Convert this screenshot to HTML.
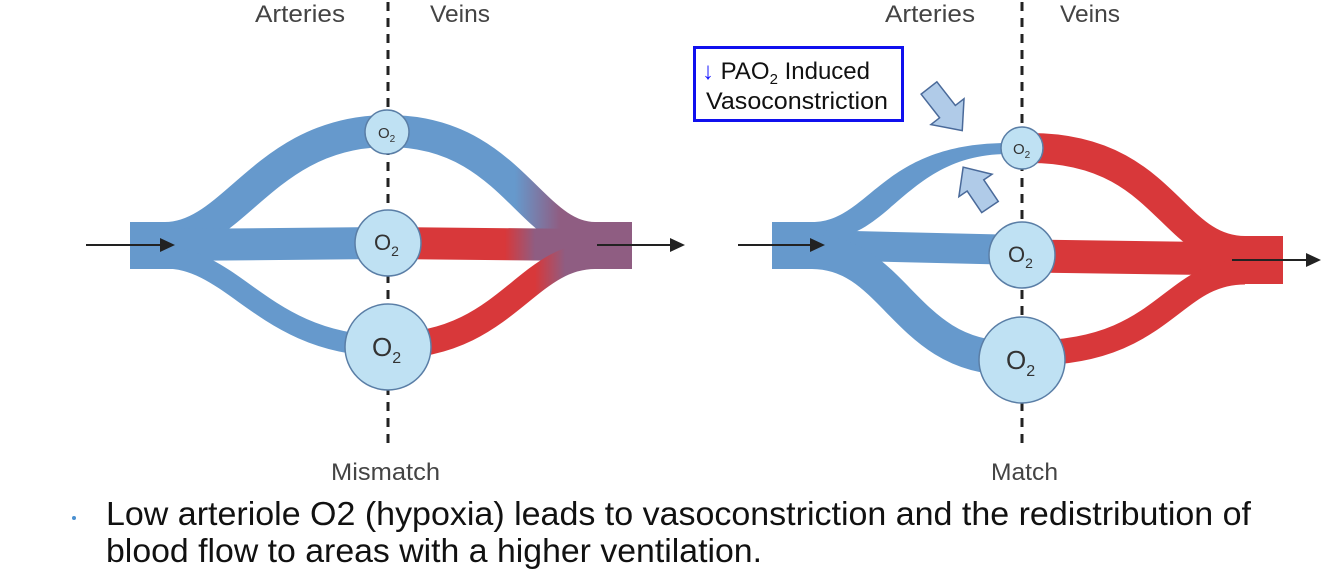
<!DOCTYPE html>
<html><head><meta charset="utf-8"><style>
body{margin:0;background:#fff;width:1334px;height:583px;overflow:hidden;font-family:"Liberation Sans",sans-serif}
</style></head><body>
<svg width="1334" height="583" viewBox="0 0 1334 583" xmlns="http://www.w3.org/2000/svg">
<defs>
<linearGradient id="gTop" gradientUnits="userSpaceOnUse" x1="515" x2="560" y1="0" y2="0">
<stop offset="0" stop-color="#6699cc"/><stop offset="1" stop-color="#8f5d82"/>
</linearGradient>
<linearGradient id="gMid" gradientUnits="userSpaceOnUse" x1="505" x2="535" y1="0" y2="0">
<stop offset="0" stop-color="#d8383a"/><stop offset="1" stop-color="#8f5d82"/>
</linearGradient>
<linearGradient id="gBot" gradientUnits="userSpaceOnUse" x1="535" x2="565" y1="0" y2="0">
<stop offset="0" stop-color="#d8383a"/><stop offset="1" stop-color="#8f5d82"/>
</linearGradient>
</defs>
<g font-family="Liberation Sans, sans-serif" fill="#444" font-size="24">
<text x="255" y="22" textLength="90" lengthAdjust="spacingAndGlyphs">Arteries</text>
<text x="430" y="22" textLength="60" lengthAdjust="spacingAndGlyphs">Veins</text>
<text x="885" y="22" textLength="90" lengthAdjust="spacingAndGlyphs">Arteries</text>
<text x="1060" y="22" textLength="60" lengthAdjust="spacingAndGlyphs">Veins</text>
<text x="331" y="480" textLength="109" lengthAdjust="spacingAndGlyphs">Mismatch</text>
<text x="991" y="480" textLength="67" lengthAdjust="spacingAndGlyphs">Match</text>
</g>
<line x1="388" y1="2" x2="388" y2="450" stroke="#222" stroke-width="3" stroke-dasharray="9,7"/>
<line x1="1022" y1="2" x2="1022" y2="450" stroke="#222" stroke-width="3" stroke-dasharray="9,7"/>
<!-- LEFT -->
<rect x="130" y="222" width="50" height="47" fill="#6699cc"/>
<rect x="575" y="222" width="57" height="47" fill="#8f5d82"/>
<g fill="none" stroke-linecap="butt">
<path d="M165,238 C235,238 265,131 388,131" stroke="#6699cc" stroke-width="32"/>
<path d="M388,131 C510,131 530,238 595,238" stroke="url(#gTop)" stroke-width="32"/>
<path d="M165,245 L388,243" stroke="#6699cc" stroke-width="32"/>
<path d="M388,243 L590,245" stroke="url(#gMid)" stroke-width="32"/>
<path d="M165,258 C235,258 265,346 388,346" stroke="#6699cc" stroke-width="21"/>
<path d="M388,346 C505,346 525,256 595,256" stroke="url(#gBot)" stroke-width="26"/>
</g>
<g fill="#bfe1f3" stroke="#5a7ea6" stroke-width="1.5">
<circle cx="387" cy="132" r="22"/><circle cx="388" cy="243" r="33"/><circle cx="388" cy="347" r="43"/>
</g>
<g fill="#333" font-family="Liberation Sans, sans-serif">
<text x="378" y="138" font-size="15">O<tspan font-size="10" dy="4">2</tspan></text>
<text x="374" y="250" font-size="22">O<tspan font-size="14" dy="6">2</tspan></text>
<text x="372" y="356" font-size="26">O<tspan font-size="16" dy="7">2</tspan></text>
</g>
<line x1="86" y1="245" x2="162" y2="245" stroke="#222" stroke-width="2"/><polygon points="175,245 160,238 160,252" fill="#222"/>
<line x1="597" y1="245" x2="672" y2="245" stroke="#222" stroke-width="2"/><polygon points="685,245 670,238 670,252" fill="#222"/>
<!-- RIGHT -->
<rect x="772" y="222" width="50" height="47" fill="#6699cc"/>
<rect x="1232" y="236" width="51" height="48" fill="#d8383a"/>
<path d="M812,222 C870,222 880,143 1008,143 L1008,154 C910,154 890,236 830,238 Z" fill="#6699cc"/>
<g fill="none">
<path d="M812,245 L1022,250" stroke="#6699cc" stroke-width="30"/>
<path d="M812,252 C895,252 905,358 1010,358" stroke="#6699cc" stroke-width="34"/>
<path d="M1030,148 C1165,148 1170,251 1245,251" stroke="#d8383a" stroke-width="30"/>
<path d="M1030,256 L1245,259" stroke="#d8383a" stroke-width="33"/>
<path d="M1030,353 C1165,353 1170,272 1245,272" stroke="#d8383a" stroke-width="25"/>
</g>
<g fill="#bfe1f3" stroke="#5a7ea6" stroke-width="1.5">
<circle cx="1022" cy="148" r="21"/><circle cx="1022" cy="255" r="33"/><circle cx="1022" cy="360" r="43"/>
</g>
<g fill="#333" font-family="Liberation Sans, sans-serif">
<text x="1013" y="154" font-size="15">O<tspan font-size="10" dy="4">2</tspan></text>
<text x="1008" y="262" font-size="22">O<tspan font-size="14" dy="6">2</tspan></text>
<text x="1006" y="369" font-size="26">O<tspan font-size="16" dy="7">2</tspan></text>
</g>
<line x1="738" y1="245" x2="812" y2="245" stroke="#222" stroke-width="2"/><polygon points="825,245 810,238 810,252" fill="#222"/>
<line x1="1232" y1="260" x2="1308" y2="260" stroke="#222" stroke-width="2"/><polygon points="1321,260 1306,253 1306,267" fill="#222"/>
<polygon points="0,-10 30,-10 30,-21 54,0 30,21 30,10 0,10" transform="translate(929,88) rotate(52)" fill="#b0cbe8" stroke="#4a6a9a" stroke-width="1.5"/>
<polygon points="0,-10 26,-10 26,-20 48,0 26,20 26,10 0,10" transform="translate(990,207) rotate(-124)" fill="#b0cbe8" stroke="#4a6a9a" stroke-width="1.5"/>
<rect x="694.5" y="47.5" width="208" height="73" fill="#fff" stroke="#1010ee" stroke-width="3"/>
<g font-family="Liberation Sans, sans-serif" font-size="24" fill="#111">
<text x="702" y="79"><tspan fill="#1a1aff">↓</tspan> PAO<tspan font-size="15" dy="5">2</tspan><tspan dy="-5"> Induced</tspan></text>
<text x="706" y="109" textLength="182" lengthAdjust="spacingAndGlyphs">Vasoconstriction</text>
</g>
<circle cx="74" cy="518" r="2" fill="#4a90d0"/>
<g font-family="Liberation Sans, sans-serif" font-size="33" fill="#111">
<text x="106" y="525" textLength="1145" lengthAdjust="spacingAndGlyphs">Low arteriole O2 (hypoxia) leads to vasoconstriction and the redistribution of</text>
<text x="106" y="562" textLength="656" lengthAdjust="spacingAndGlyphs">blood flow to areas with a higher ventilation.</text>
</g>
</svg>
</body></html>
